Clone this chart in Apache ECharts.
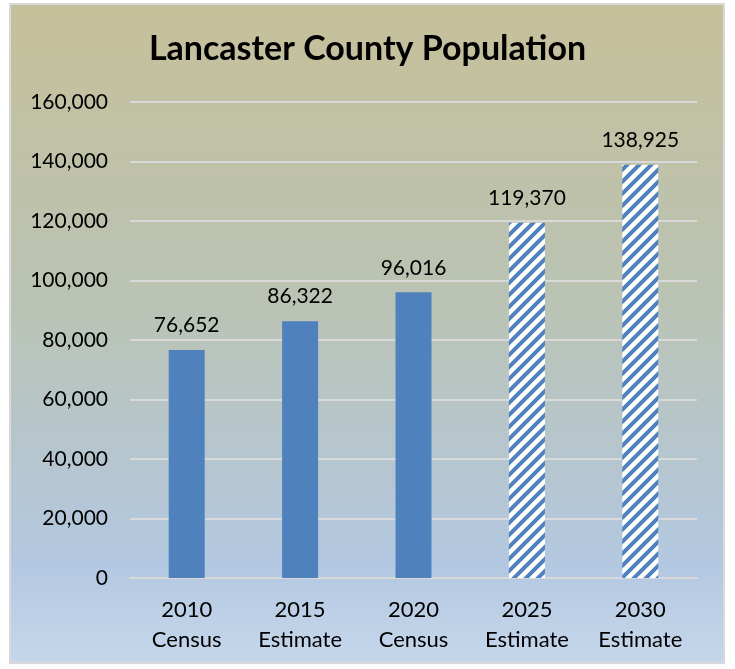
<!DOCTYPE html>
<html>
<head>
<meta charset="utf-8">
<script src="https://cdn.jsdelivr.net/npm/echarts@6/dist/echarts.min.js"></script>
<style>
    html, body { margin: 0; padding: 0; background: #ffffff; }
    #chart { width: 735px; height: 669px; }
</style>
</head>
<body>
<div id="chart"></div>
<script>
    var categories = ['2010\nCensus', '2015\nEstimate', '2020\nCensus', '2025\nEstimate', '2030\nEstimate'];
    var population = [76652, 86322, 96016, 119370, 138925];
    var isEstimateHatched = [false, false, false, true, true];
    var yTicks = [0, 20000, 40000, 60000, 80000, 100000, 120000, 140000, 160000];

    var font = 'Lato, "Open Sans", sans-serif';

    // diagonal stripe fill for projected bars
    function makeHatch() {
        var c = document.createElement('canvas');
        c.width = 12;
        c.height = 12;
        var ctx = c.getContext('2d');
        ctx.fillStyle = '#ffffff';
        ctx.fillRect(0, 0, 12, 12);
        ctx.strokeStyle = '#4f81bd';
        ctx.lineWidth = 4;
        ctx.beginPath();
        ctx.moveTo(-3, 15); ctx.lineTo(15, -3);
        ctx.moveTo(-9, 9); ctx.lineTo(9, -9);
        ctx.moveTo(3, 21); ctx.lineTo(21, 3);
        ctx.stroke();
        return c;
    }
    var hatch = makeHatch();

    var chart = echarts.init(document.getElementById('chart'));
    var option = {
        animation: false,
        graphic: [{
            type: 'rect',
            z: -10,
            silent: true,
            shape: {x: 10, y: 4, width: 714, height: 659},
            style: {
                stroke: '#d9d9d9',
                lineWidth: 2,
                fill: new echarts.graphic.LinearGradient(0, 0, 0, 1, [
                    {offset: 0, color: '#c6c09a'},
                    {offset: 0.45, color: '#bac3b4'},
                    {offset: 0.85, color: '#b3c8e1'},
                    {offset: 1, color: '#c6d7eb'}
                ])
            }
        }],
        title: {
            text: 'Lancaster County Population',
            left: 'center',
            top: 27,
            textStyle: {fontFamily: font, fontSize: 34, fontWeight: 'bold', color: '#000000'}
        },
        grid: {left: 130, right: 38, top: 102, bottom: 91},
        xAxis: {
            type: 'category',
            data: categories,
            axisTick: {show: false},
            axisLine: {lineStyle: {color: '#d9d9d9', width: 2}},
            axisLabel: {
                color: '#000000', fontFamily: font, fontSize: 22,
                lineHeight: 30, margin: 17, interval: 0
            }
        },
        yAxis: {
            type: 'value',
            min: yTicks[0],
            max: yTicks[yTicks.length - 1],
            interval: 20000,
            axisLine: {show: false},
            axisTick: {show: false},
            splitLine: {lineStyle: {color: '#d9d9d9', width: 2}},
            axisLabel: {
                color: '#000000', fontFamily: font, fontSize: 21, margin: 22,
                formatter: function (v) { return v.toLocaleString('en-US'); }
            }
        },
        series: [{
            type: 'bar',
            barWidth: 36,
            data: population.map(function (v, i) {
                return {
                    value: v,
                    itemStyle: {color: isEstimateHatched[i] ? {image: hatch, repeat: 'repeat'} : '#4f81bd'}
                };
            }),
            label: {
                show: true,
                position: 'top',
                distance: 14,
                color: '#000000',
                fontFamily: font,
                fontSize: 21,
                formatter: function (p) { return p.value.toLocaleString('en-US'); }
            }
        }]
    };
    chart.setOption(option);
</script>
</body>
</html>
